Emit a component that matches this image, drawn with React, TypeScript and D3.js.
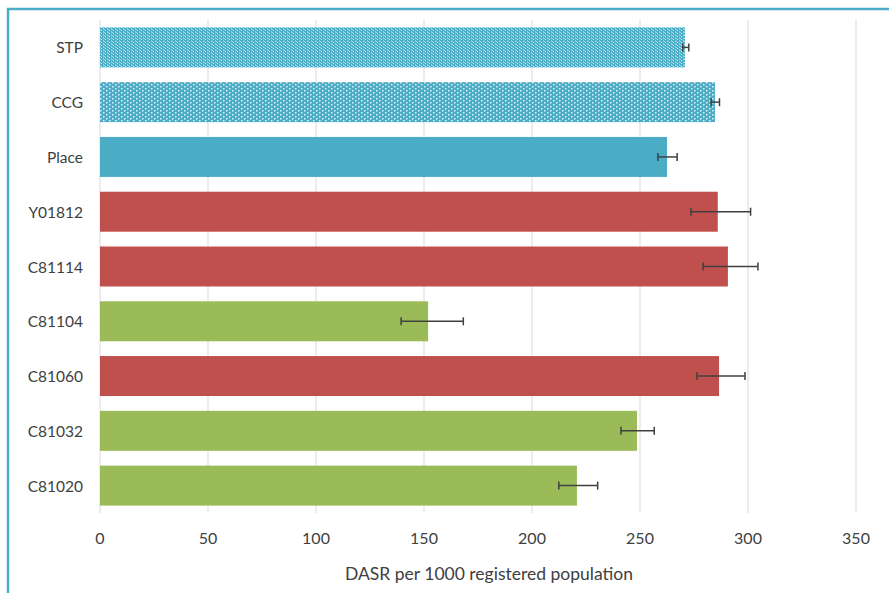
import React from "react";
import * as d3 from "d3";

const categories = ["STP", "CCG", "Place", "Y01812", "C81114", "C81104", "C81060", "C81032", "C81020"];
const values = [270.8, 284.7, 262.5, 286.0, 290.7, 151.9, 286.6, 248.6, 220.8];
const lower = [269.8, 282.9, 258.3, 273.6, 279.2, 139.4, 276.4, 241.2, 212.4];
const upper = [272.6, 286.8, 267.2, 301.2, 304.6, 168.2, 298.6, 256.6, 230.4];
const fillKinds = ["stp", "ccg", "teal", "red", "red", "green", "red", "green", "green"];
const xTicks = [0, 50, 100, 150, 200, 250, 300, 350];
const axisTitle = "DASR per 1000 registered population";

const TEAL = "#4BACC6";
const RED = "#C0504D";
const GREEN = "#9BBB59";

export default function App() {
  const W = 889, H = 593;
  const x = d3.scaleLinear().domain([0, 350]).range([100, 856]);
  const y = d3.scaleBand<string>().domain(categories).range([20, 513]).paddingInner(0.27).paddingOuter(0.135);
  const font = "Lato, 'Open Sans', sans-serif";
  const fillFor = (k: string) =>
    k === "stp" ? "url(#patSTP)" : k === "ccg" ? "url(#patCCG)" : k === "teal" ? TEAL : k === "red" ? RED : GREEN;
  return (
    <svg width={W} height={H} style={{ position: "absolute", left: 0, top: 0, background: "#fff" }}>
      <defs>
        <pattern id="patSTP" width="4" height="3" patternUnits="userSpaceOnUse">
          <rect width="4" height="3" fill={TEAL} />
          <rect x="1" y="0" width="1" height="1" fill="#ffffff" opacity="0.85" />
          <rect x="3" y="1.5" width="1" height="1" fill="#ffffff" opacity="0.85" />
          <rect x="0" y="2" width="1" height="1" fill="#d8eef4" opacity="0.6" />
        </pattern>
        <pattern id="patCCG" width="6" height="4" patternUnits="userSpaceOnUse">
          <rect width="6" height="4" fill={TEAL} />
          <rect x="1" y="0" width="1.5" height="1.5" fill="#ffffff" opacity="0.85" />
          <rect x="4" y="2" width="1.5" height="1.5" fill="#ffffff" opacity="0.85" />
        </pattern>
      </defs>
      <rect x={8} y={9} width={W + 10} height={H + 10} fill="none" stroke={TEAL} strokeWidth={2.5} />
      {xTicks.map((t) => (
        <line key={"g" + t} x1={x(t)} x2={x(t)} y1={20} y2={513} stroke="#d9d9d9" strokeWidth={1} />
      ))}
      {categories.map((c, i) => {
        const by = y(c)!;
        const bh = y.bandwidth();
        const cy = by + bh / 2;
        return (
          <g key={c}>
            <rect x={x(0)} y={by} width={x(values[i]) - x(0)} height={bh} fill={fillFor(fillKinds[i])} />
            <line x1={x(lower[i])} x2={x(upper[i])} y1={cy} y2={cy} stroke="#404040" strokeWidth={1.5} />
            <line x1={x(lower[i])} x2={x(lower[i])} y1={cy - 4} y2={cy + 4} stroke="#404040" strokeWidth={1.5} />
            <line x1={x(upper[i])} x2={x(upper[i])} y1={cy - 4} y2={cy + 4} stroke="#404040" strokeWidth={1.5} />
            <text x={83} y={cy} textAnchor="end" dominantBaseline="central" fontFamily={font} fontSize={15.5} fill="#404040">
              {c}
            </text>
          </g>
        );
      })}
      {xTicks.map((t) => (
        <text key={"t" + t} x={x(t)} y={537} textAnchor="middle" dominantBaseline="central" fontFamily={font} fontSize={16} fill="#404040">
          {t}
        </text>
      ))}
      <text x={489} y={573} textAnchor="middle" dominantBaseline="central" fontFamily={font} fontSize={17.5} fill="#404040">
        {axisTitle}
      </text>
    </svg>
  );
}
